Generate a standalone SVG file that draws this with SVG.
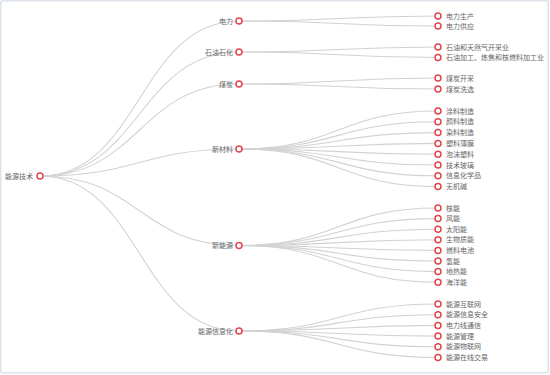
<svg xmlns="http://www.w3.org/2000/svg" width="550" height="375" viewBox="0 0 550 375">
<style>
.bg{fill:#fff;stroke:#dde3ea;stroke-width:1.5}
.ln{fill:none;stroke:#d2d2d2;stroke-width:1.1}
.nd{fill:#fff;stroke:#e0474c;stroke-width:1.5}
text{font-family:"Noto Sans CJK SC","Noto Sans",sans-serif;font-size:7px;fill:#666}
.r{text-anchor:end}
</style>
<rect class="bg" x="0.75" y="0.75" width="547.5" height="372" rx="2"/>
<g id="connectors">
<path class="ln" d="M40,176 C139.5,176 139.5,21 239,21"/>
<path class="ln" d="M40,176 C139.5,176 139.5,52 239,52"/>
<path class="ln" d="M40,176 C139.5,176 139.5,84 239,84"/>
<path class="ln" d="M40,176 C139.5,176 139.5,149 239,149"/>
<path class="ln" d="M40,176 C139.5,176 139.5,245.5 239,245.5"/>
<path class="ln" d="M40,176 C139.5,176 139.5,331 239,331"/>
<path class="ln" d="M239,21 C338.5,21 338.5,16 438,16"/>
<path class="ln" d="M239,21 C338.5,21 338.5,26 438,26"/>
<path class="ln" d="M239,52 C338.5,52 338.5,47 438,47"/>
<path class="ln" d="M239,52 C338.5,52 338.5,57.5 438,57.5"/>
<path class="ln" d="M239,84 C338.5,84 338.5,78 438,78"/>
<path class="ln" d="M239,84 C338.5,84 338.5,89 438,89"/>
<path class="ln" d="M239,149 C338.5,149 338.5,111 438,111"/>
<path class="ln" d="M239,149 C338.5,149 338.5,121.8 438,121.8"/>
<path class="ln" d="M239,149 C338.5,149 338.5,132.6 438,132.6"/>
<path class="ln" d="M239,149 C338.5,149 338.5,143.4 438,143.4"/>
<path class="ln" d="M239,149 C338.5,149 338.5,154.2 438,154.2"/>
<path class="ln" d="M239,149 C338.5,149 338.5,165 438,165"/>
<path class="ln" d="M239,149 C338.5,149 338.5,175.8 438,175.8"/>
<path class="ln" d="M239,149 C338.5,149 338.5,186.6 438,186.6"/>
<path class="ln" d="M239,245.5 C338.5,245.5 338.5,208 438,208"/>
<path class="ln" d="M239,245.5 C338.5,245.5 338.5,218.6 438,218.6"/>
<path class="ln" d="M239,245.5 C338.5,245.5 338.5,229.2 438,229.2"/>
<path class="ln" d="M239,245.5 C338.5,245.5 338.5,239.8 438,239.8"/>
<path class="ln" d="M239,245.5 C338.5,245.5 338.5,250.4 438,250.4"/>
<path class="ln" d="M239,245.5 C338.5,245.5 338.5,261 438,261"/>
<path class="ln" d="M239,245.5 C338.5,245.5 338.5,271.6 438,271.6"/>
<path class="ln" d="M239,245.5 C338.5,245.5 338.5,282.2 438,282.2"/>
<path class="ln" d="M239,331 C338.5,331 338.5,304 438,304"/>
<path class="ln" d="M239,331 C338.5,331 338.5,314.7 438,314.7"/>
<path class="ln" d="M239,331 C338.5,331 338.5,325.4 438,325.4"/>
<path class="ln" d="M239,331 C338.5,331 338.5,336.1 438,336.1"/>
<path class="ln" d="M239,331 C338.5,331 338.5,346.8 438,346.8"/>
<path class="ln" d="M239,331 C338.5,331 338.5,357.5 438,357.5"/>
</g>
<g id="root"><circle class="nd" cx="40" cy="176" r="3"/><text class="r" x="33" y="178.5">能源技术</text></g>
<g id="n-dianli"><circle class="nd" cx="239" cy="21" r="3"/><text class="r" x="233" y="23.5">电力</text></g>
<g id="n-shiyou"><circle class="nd" cx="239" cy="52" r="3"/><text class="r" x="233" y="54.5">石油石化</text></g>
<g id="n-meitan"><circle class="nd" cx="239" cy="84" r="3"/><text class="r" x="233" y="86.5">煤炭</text></g>
<g id="n-xincailiao"><circle class="nd" cx="239" cy="149" r="3"/><text class="r" x="233" y="151.5">新材料</text></g>
<g id="n-xinnengyuan"><circle class="nd" cx="239" cy="245.5" r="3"/><text class="r" x="233" y="248">新能源</text></g>
<g id="n-xinxihua"><circle class="nd" cx="239" cy="331" r="3"/><text class="r" x="233" y="333.5">能源信息化</text></g>
<g id="l-1"><circle class="nd" cx="438" cy="16" r="3"/><text x="446" y="18.5">电力生产</text></g>
<g id="l-2"><circle class="nd" cx="438" cy="26" r="3"/><text x="446" y="28.5">电力供应</text></g>
<g id="l-3"><circle class="nd" cx="438" cy="47" r="3"/><text x="446" y="49.5">石油和天然气开采业</text></g>
<g id="l-4"><circle class="nd" cx="438" cy="57.5" r="3"/><text x="446" y="60">石油加工、炼焦和核燃料加工业</text></g>
<g id="l-5"><circle class="nd" cx="438" cy="78" r="3"/><text x="446" y="80.5">煤炭开采</text></g>
<g id="l-6"><circle class="nd" cx="438" cy="89" r="3"/><text x="446" y="91.5">煤炭洗选</text></g>
<g id="l-7"><circle class="nd" cx="438" cy="111" r="3"/><text x="446" y="113.5">涂料制造</text></g>
<g id="l-8"><circle class="nd" cx="438" cy="121.8" r="3"/><text x="446" y="124.3">颜料制造</text></g>
<g id="l-9"><circle class="nd" cx="438" cy="132.6" r="3"/><text x="446" y="135.1">染料制造</text></g>
<g id="l-10"><circle class="nd" cx="438" cy="143.4" r="3"/><text x="446" y="145.9">塑料薄膜</text></g>
<g id="l-11"><circle class="nd" cx="438" cy="154.2" r="3"/><text x="446" y="156.7">泡沫塑料</text></g>
<g id="l-12"><circle class="nd" cx="438" cy="165" r="3"/><text x="446" y="167.5">技术玻璃</text></g>
<g id="l-13"><circle class="nd" cx="438" cy="175.8" r="3"/><text x="446" y="178.3">信息化学品</text></g>
<g id="l-14"><circle class="nd" cx="438" cy="186.6" r="3"/><text x="446" y="189.1">无机碱</text></g>
<g id="l-15"><circle class="nd" cx="438" cy="208" r="3"/><text x="446" y="210.5">核能</text></g>
<g id="l-16"><circle class="nd" cx="438" cy="218.6" r="3"/><text x="446" y="221.1">风能</text></g>
<g id="l-17"><circle class="nd" cx="438" cy="229.2" r="3"/><text x="446" y="231.7">太阳能</text></g>
<g id="l-18"><circle class="nd" cx="438" cy="239.8" r="3"/><text x="446" y="242.3">生物质能</text></g>
<g id="l-19"><circle class="nd" cx="438" cy="250.4" r="3"/><text x="446" y="252.9">燃料电池</text></g>
<g id="l-20"><circle class="nd" cx="438" cy="261" r="3"/><text x="446" y="263.5">氢能</text></g>
<g id="l-21"><circle class="nd" cx="438" cy="271.6" r="3"/><text x="446" y="274.1">地热能</text></g>
<g id="l-22"><circle class="nd" cx="438" cy="282.2" r="3"/><text x="446" y="284.7">海洋能</text></g>
<g id="l-23"><circle class="nd" cx="438" cy="304" r="3"/><text x="446" y="306.5">能源互联网</text></g>
<g id="l-24"><circle class="nd" cx="438" cy="314.7" r="3"/><text x="446" y="317.2">能源信息安全</text></g>
<g id="l-25"><circle class="nd" cx="438" cy="325.4" r="3"/><text x="446" y="327.9">电力线通信</text></g>
<g id="l-26"><circle class="nd" cx="438" cy="336.1" r="3"/><text x="446" y="338.6">能源管理</text></g>
<g id="l-27"><circle class="nd" cx="438" cy="346.8" r="3"/><text x="446" y="349.3">能源物联网</text></g>
<g id="l-28"><circle class="nd" cx="438" cy="357.5" r="3"/><text x="446" y="360">能源在线交易</text></g>
</svg>
